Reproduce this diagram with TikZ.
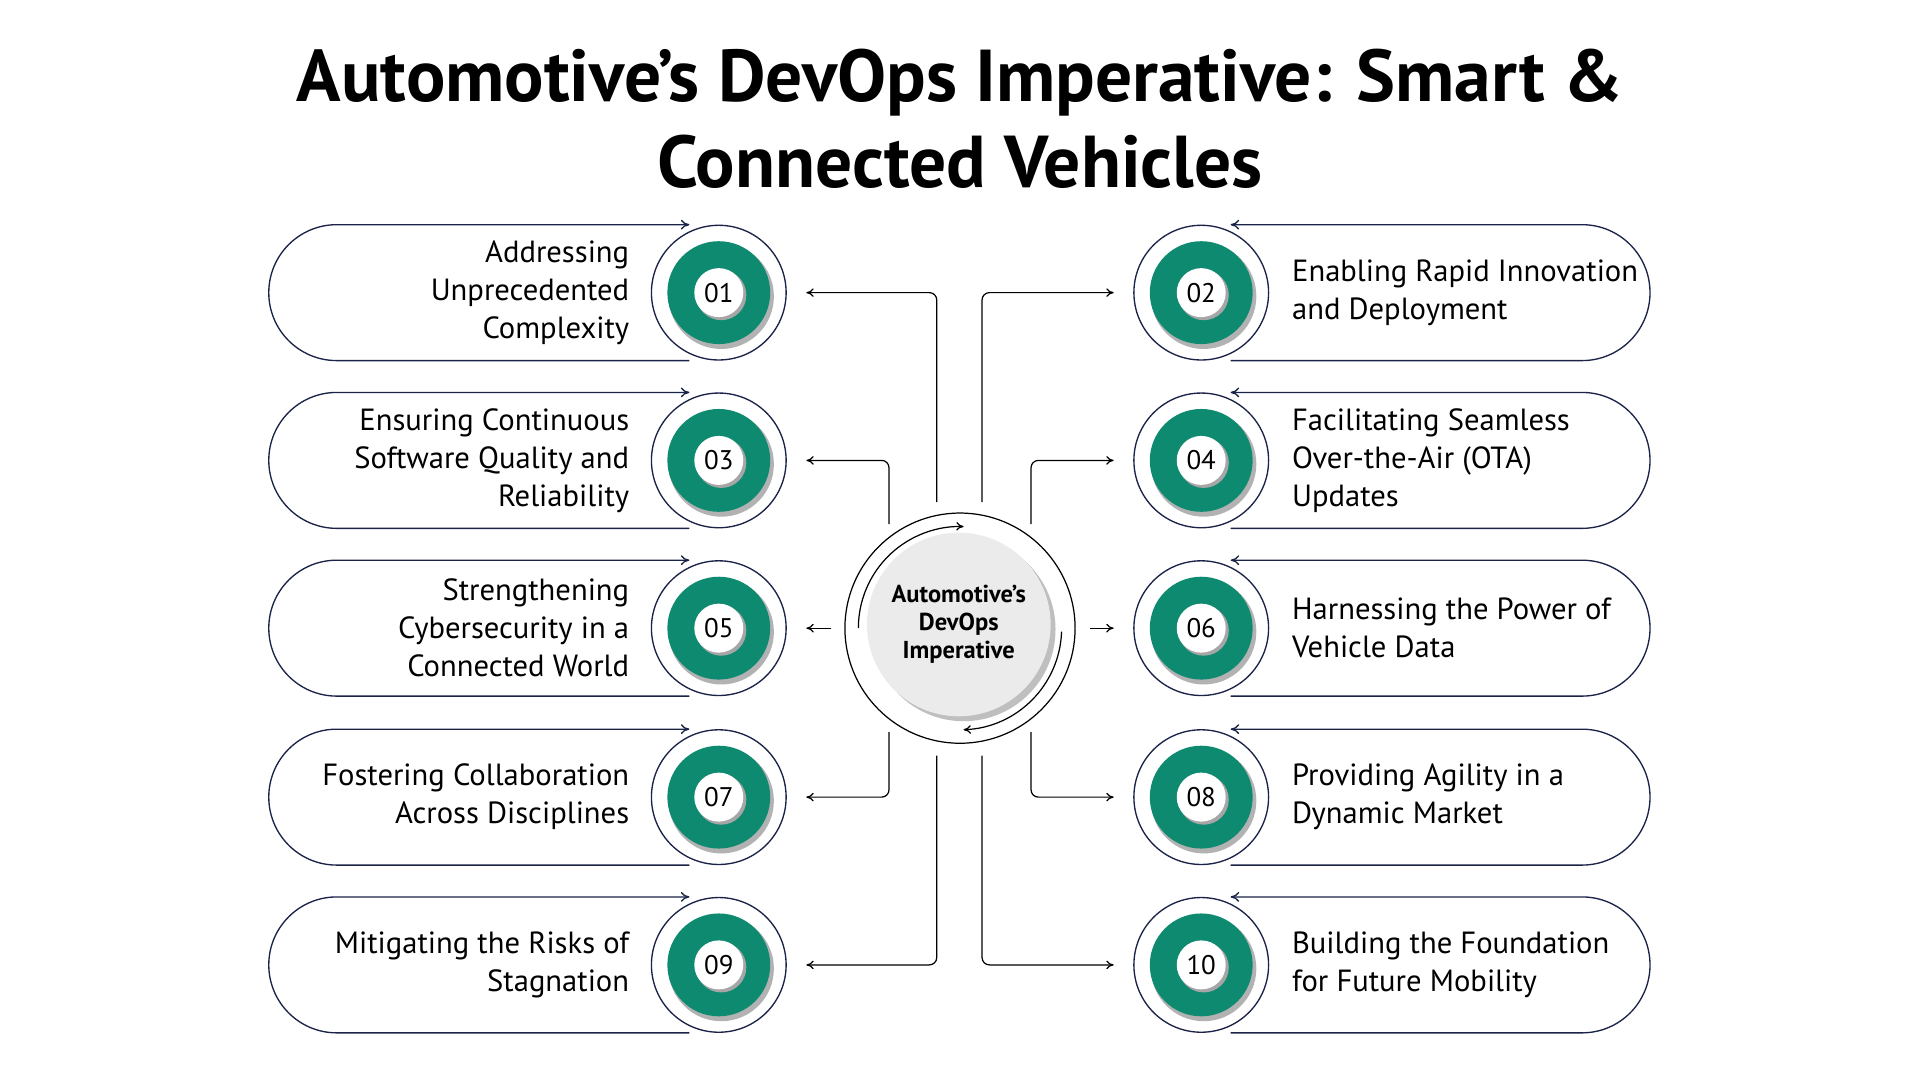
\documentclass[tikz,border=0pt]{standalone}
\usepackage{fontspec}
\setmainfont{PT Sans}
\usetikzlibrary{arrows.meta}
\definecolor{grn}{HTML}{0E8A70}
\definecolor{navy}{HTML}{1B2448}
\definecolor{cgray}{HTML}{EBEBEB}
\newcommand{\apos}{\symbol{39}}
\tikzset{
  pill/.style={draw=navy,line width=1.1pt,-{To[length=7pt,width=8pt]}},
  ring/.style={circle,draw=navy,line width=1.1pt,fill=white,minimum size=110pt,inner sep=0pt},
  gdisk/.style={circle,fill=grn,minimum size=84pt,inner sep=0pt},
  wdisk/.style={circle,fill=white,minimum size=40pt,inner sep=0pt,font=\fontsize{22}{24}\selectfont},
  lbl/.style={font=\fontsize{25}{31}\selectfont,inner sep=0pt},
  conn/.style={draw=black,line width=1pt,rounded corners=6pt,-{To[length=6pt,width=7pt]}},
}
\begin{document}
\begin{tikzpicture}[x=1pt,y=1pt]
\useasboundingbox (0,0) rectangle (1568,882);
\node[font=\bfseries\fontsize{60}{70}\selectfont,align=center] (title) at (784,785) {Automotive\apos s DevOps Imperative: Smart \&\\Connected Vehicles};
% center
\node[circle,draw=black,line width=1pt,minimum size=188pt,inner sep=0pt] (c) at (784,369) {};
\fill[black!25] (787,368) circle (75);
\node[circle,fill=cgray,minimum size=150pt,inner sep=0pt,align=center,font=\bfseries\fontsize{20}{23}\selectfont] (ci) at (783,372) {Automotive\apos s\\DevOps\\Imperative};
\draw[line width=1pt,-{To[length=6pt,width=7pt]}] (784,369) ++(180:83) arc(180:88:83);
\draw[line width=1pt,-{To[length=6pt,width=7pt]}] (784,369) ++(-2:83) arc(-2:-88:83);
% items
\foreach \n/\yc/\t in {1/643/{Addressing\\Unprecedented\\Complexity},3/506/{Ensuring Continuous\\Software Quality and\\Reliability},5/369/{Strengthening\\Cybersecurity in a\\Connected World},7/231/{Fostering Collaboration\\Across Disciplines},9/94/{Mitigating the Risks of\\Stagnation}}{
  \draw[pill] (563,\yc-55.5) -- (275,\yc-55.5) arc(270:90:55.5) -- (563,\yc+55.5);
  \node[ring] (o\n) at (587,\yc) {};
  \fill[black!30] (589,\yc-3) circle (43);
  \node[gdisk] (g\n) at (587,\yc) {};
  \fill[black!35] (589,\yc-2) circle (20.5);
  \node[wdisk] (n\n) at (587,\yc) {0\n};
  \node[lbl,anchor=east,align=right] (t\n) at (514,\yc) {\t};
}
\foreach \n/\yc/\t in {2/643/{Enabling Rapid Innovation\\and Deployment},4/506/{Facilitating Seamless\\Over-the-Air (OTA)\\Updates},6/369/{Harnessing the Power of\\Vehicle Data},8/231/{Providing Agility in a\\Dynamic Market},10/94/{Building the Foundation\\for Future Mobility}}{
  \draw[pill] (1005,\yc-55.5) -- (1292,\yc-55.5) arc(-90:90:55.5) -- (1005,\yc+55.5);
  \node[ring] (o\n) at (981,\yc) {};
  \fill[black!30] (983,\yc-3) circle (43);
  \node[gdisk] (g\n) at (981,\yc) {};
  \fill[black!35] (983,\yc-2) circle (20.5);
  \node[wdisk] (n\n) at (981,\yc) {\ifnum\n<10 0\fi\n};
  \node[lbl,anchor=west,align=left] (t\n) at (1055,\yc) {\t};
}
% connector starts
\coordinate (s1) at (765,472); \coordinate (s3) at (726,454);
\coordinate (s5) at (679,369); \coordinate (s7) at (726,284); \coordinate (s9) at (765,265);
\coordinate (s2) at (802,472); \coordinate (s4) at (842,454);
\coordinate (s6) at (890,369); \coordinate (s8) at (842,284); \coordinate (s10) at (802,265);
\foreach \n in {1,3,7,9}{ \draw[conn] (s\n) |- ([xshift=16pt]o\n.east); }
\foreach \n in {2,4,8,10}{ \draw[conn] (s\n) |- ([xshift=-16pt]o\n.west); }
\draw[conn] (s5) -- ([xshift=16pt]o5.east);
\draw[conn] (s6) -- ([xshift=-16pt]o6.west);
\end{tikzpicture}
\end{document}
